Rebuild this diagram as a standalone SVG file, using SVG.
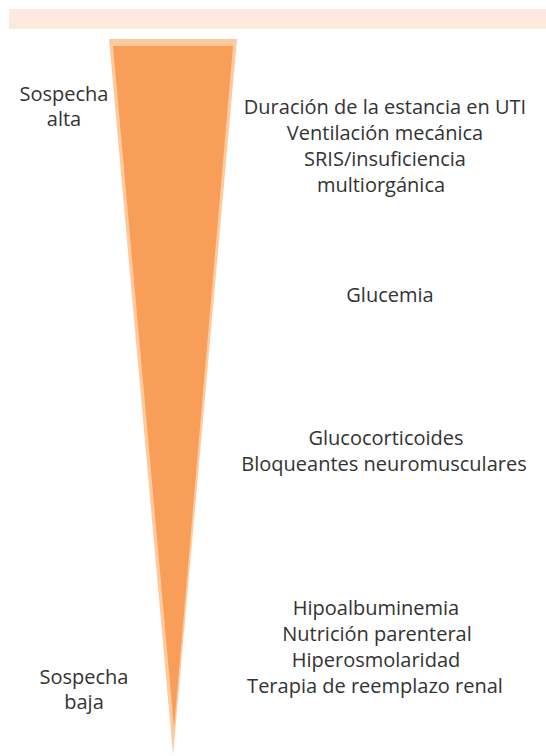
<svg xmlns="http://www.w3.org/2000/svg" width="546" height="756" viewBox="0 0 546 756">
<style>
text{font-family:"Open Sans","Noto Sans",sans-serif;font-size:20px;fill:#333;text-anchor:middle}
</style>
<rect width="546" height="756" fill="#fff"/>
<rect id="band" x="9" y="9" width="537" height="20" fill="#fdeadf"/>
<g id="triangle">
<polygon points="109,39 237,39 173,755" fill="#fdca9e"/>
<polygon points="113,46 233,46 174,728" fill="#f99e58"/>
</g>
<g id="high-label">
<text x="64" y="101">Sospecha</text>
<text x="64" y="126">alta</text>
</g>
<g id="low-label">
<text x="84" y="684">Sospecha</text>
<text x="84" y="709">baja</text>
</g>
<g id="group1">
<text x="385" y="114">Duración de la estancia en UTI</text>
<text x="385" y="140">Ventilación mecánica</text>
<text x="385" y="166">SRIS/insuficiencia</text>
<text x="381" y="192">multiorgánica</text>
</g>
<g id="group2">
<text x="390" y="302">Glucemia</text>
</g>
<g id="group3">
<text x="386" y="445">Glucocorticoides</text>
<text x="384" y="471">Bloqueantes neuromusculares</text>
</g>
<g id="group4">
<text x="376" y="615">Hipoalbuminemia</text>
<text x="377" y="641">Nutrición parenteral</text>
<text x="376" y="667">Hiperosmolaridad</text>
<text x="375" y="693">Terapia de reemplazo renal</text>
</g>
<g id="connectors"/>
</svg>
